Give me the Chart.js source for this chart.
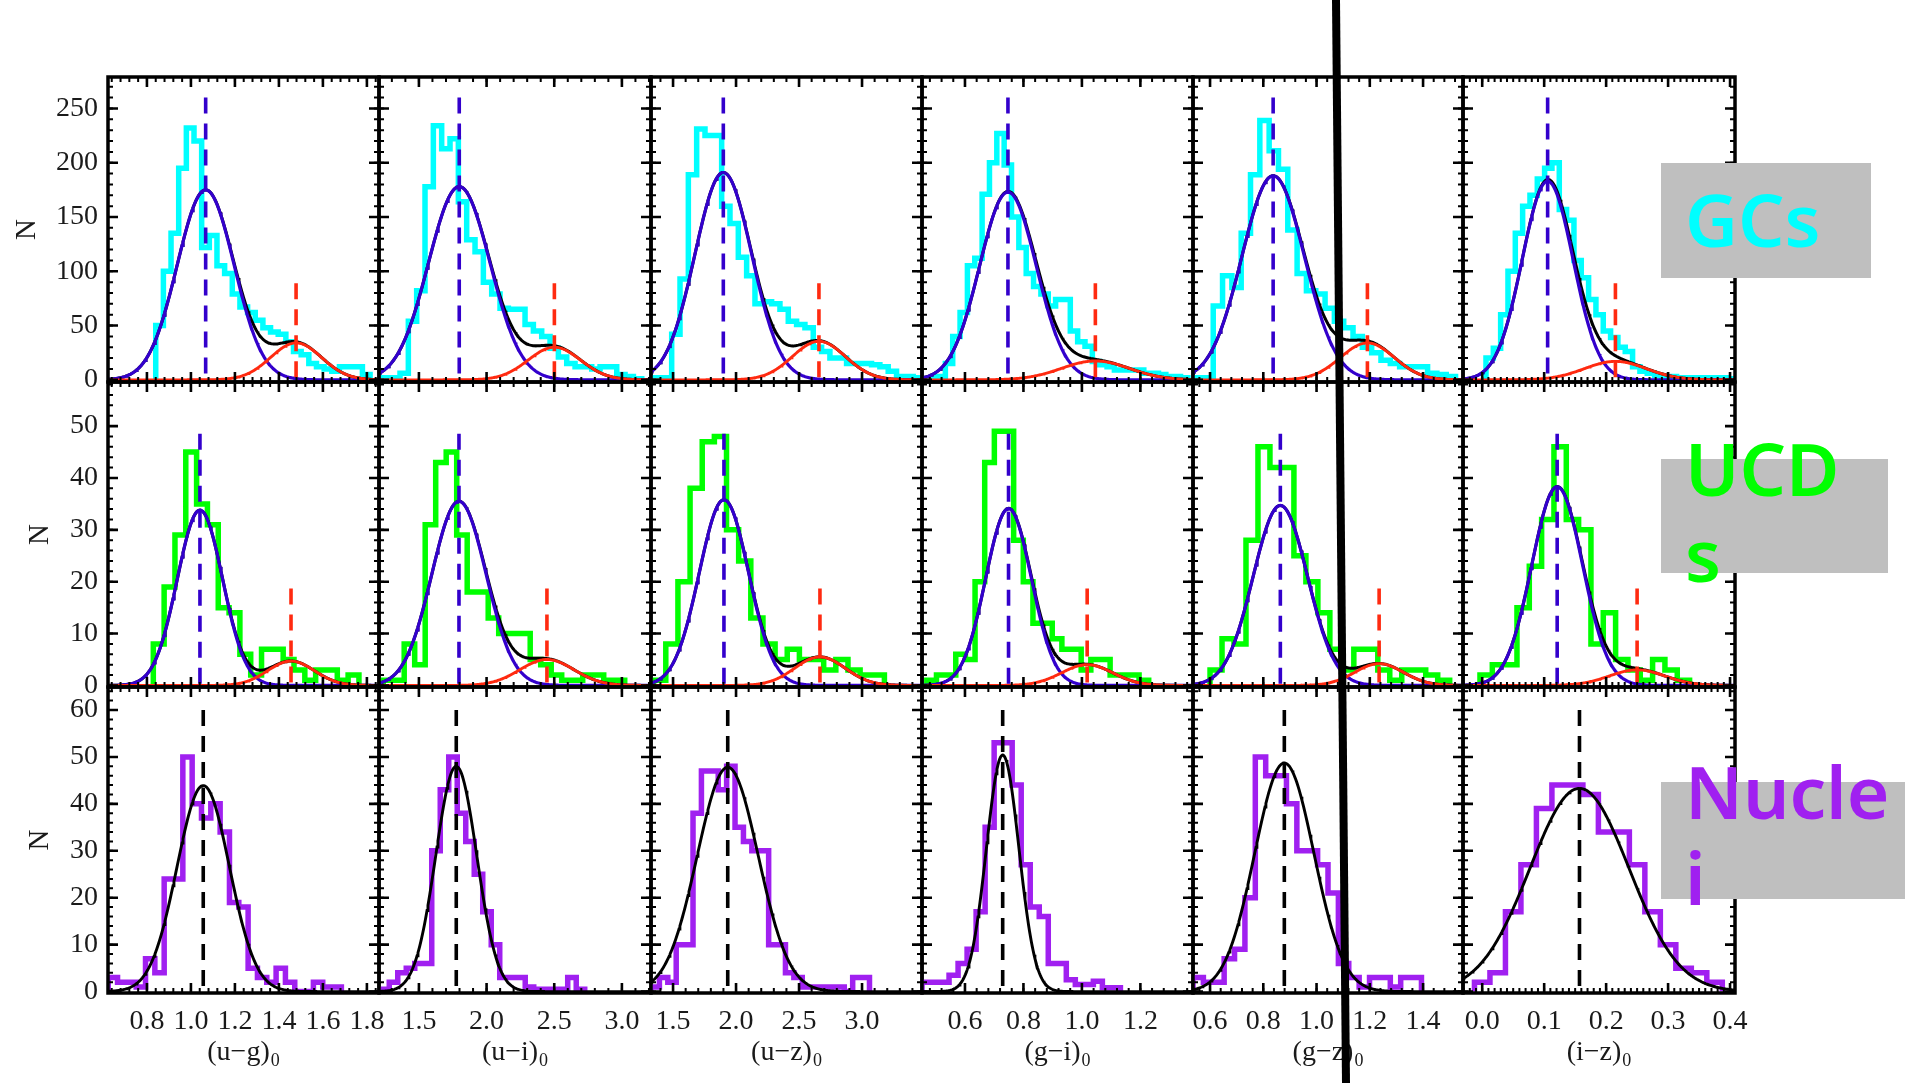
<!DOCTYPE html>
<html>
<head>
<meta charset="utf-8">
<script src="https://cdn.jsdelivr.net/npm/chart.js@4.4.1/dist/chart.umd.min.js"></script>
<style>
html, body { margin: 0; padding: 0; background: #fff; }
#page { position: relative; width: 1905px; height: 1083px; overflow: hidden; background: #fff; }
canvas.panel { position: absolute; }
.box { position: absolute; background: #bfbfbf; }
.tag { position: absolute; font-family: 'Noto Sans', sans-serif; font-weight: 600; font-size: 73px; line-height: 86px; white-space: nowrap; }
svg.cut { position: absolute; left: 0; top: 0; }
</style>
</head>
<body>
<div id="page"></div>
<script>
// axis ranges and tick labels, one entry per column / row
const colorNames = ['(u\u2212g)', '(u\u2212i)', '(u\u2212z)', '(g\u2212i)', '(g\u2212z)', '(i\u2212z)'];
const xMinByCol = [0.623, 1.205, 1.325, 0.453, 0.536, -0.031];
const xMaxByCol = [1.855, 3.215, 3.476, 1.38, 1.55, 0.408];
const xTicksByCol = [
    [0.8, 1.0, 1.2, 1.4, 1.6, 1.8],
    [1.5, 2.0, 2.5, 3.0],
    [1.5, 2.0, 2.5, 3.0],
    [0.6, 0.8, 1.0, 1.2],
    [0.6, 0.8, 1.0, 1.2, 1.4],
    [0.0, 0.1, 0.2, 0.3, 0.4]
];
const xMinorByCol = [0.04, 0.1, 0.1, 0.04, 0.04, 0.01];
const yMinByRow = [-2, -0.3, -0.3];
const yMaxByRow = [279, 58.5, 64.9];
const yTicksByRow = [
    [0, 50, 100, 150, 200, 250],
    [0, 10, 20, 30, 40, 50],
    [0, 10, 20, 30, 40, 50, 60]
];
const yMinorByRow = [10, 2, 2];

// GCs: histogram (first bin edge, bin width, counts) and two-gaussian fit
const gcHistStart = [0.84, 1.237, 1.357, 0.4575, 0.542, 0.0061];
const gcHistWidth = [0.0348, 0.0616, 0.0661, 0.02514, 0.035, 0.01183];
const gcHistCounts = [
    [50, 100, 135, 195, 232, 220, 122, 133, 105, 98, 79, 67, 62, 55, 48, 44, 42, 35, 26, 23, 15, 12, 10, 8, 12, 12, 12, 5],
    [2, 2, 6, 54, 82, 178, 234, 213, 222, 164, 129, 118, 90, 79, 66, 65, 65, 51, 45, 40, 29, 21, 15, 12, 12, 10, 12, 12, 5, 3, 1],
    [2, 2, 42, 93, 189, 231, 225, 225, 160, 144, 113, 96, 70, 72, 70, 65, 54, 51, 48, 30, 26, 20, 20, 15, 15, 15, 14, 12, 8, 3, 3, 2],
    [1, 2, 3, 15, 40, 62, 105, 112, 171, 200, 227, 198, 150, 122, 98, 86, 79, 68, 74, 74, 45, 35, 31, 17, 14, 12, 9, 9, 9, 9, 6, 6, 5, 3, 3, 2],
    [2, 2, 68, 96, 85, 135, 189, 239, 211, 194, 138, 98, 82, 79, 66, 54, 48, 40, 30, 25, 18, 15, 12, 12, 12, 6, 5, 3],
    [20, 29, 60, 100, 135, 160, 170, 185, 195, 200, 157, 147, 110, 94, 74, 60, 45, 39, 30, 26, 12, 8, 6, 4, 3, 3, 2, 2, 2, 2, 2, 2, 2, 1]
];
const gcBlueMean = [1.067, 1.798, 1.899, 0.747, 0.837, 0.1056];
const gcBlueSigma = [0.129, 0.227, 0.225, 0.097, 0.117, 0.041];
const gcBluePeak = [175, 178, 191, 173, 188, 183];
const gcRedMean = [1.478, 2.501, 2.658, 1.046, 1.191, 0.215];
const gcRedSigma = [0.116, 0.194, 0.21, 0.116, 0.101, 0.05];
const gcRedPeak = [34, 30, 35.5, 17.4, 34, 17];

// UCDs
const ucdHistStart = [0.829, 1.236, 1.346, 0.4695, 0.6, -0.0036];
const ucdHistWidth = [0.0492, 0.0776, 0.0964, 0.033, 0.045, 0.0199];
const ucdHistCounts = [
    [8, 19, 29, 45, 35, 31, 15, 14, 6, 2, 7, 7, 5, 3, 1, 3, 3, 1, 2],
    [1, 1, 8, 4, 31, 43, 45, 29, 18, 18, 13, 10, 10, 10, 5, 4, 2, 1, 1, 2, 2, 1, 1],
    [1, 8, 20, 38, 47, 48, 30, 24, 13, 8, 5, 7, 5, 5, 3, 5, 3, 2, 2],
    [1, 2, 2, 6, 5, 20, 43, 49, 49, 28, 20, 12, 12, 9, 7, 7, 3, 5, 5, 2, 2, 2, 1],
    [3, 9, 8, 28, 46, 42, 42, 25, 20, 14, 7, 3, 7, 7, 3, 1, 3, 3, 2, 1],
    [2, 4, 4, 15, 23, 32, 46, 32, 30, 8, 14, 5, 3, 1, 5, 3, 1]
];
const ucdBlueMean = [1.041, 1.796, 1.904, 0.749, 0.864, 0.121];
const ucdBlueSigma = [0.103, 0.2, 0.196, 0.078, 0.102, 0.041];
const ucdBluePeak = [33.8, 35.5, 35.8, 34.1, 34.7, 38.3];
const ucdRedMean = [1.455, 2.446, 2.666, 1.018, 1.235, 0.25];
const ucdRedSigma = [0.106, 0.2, 0.2, 0.088, 0.091, 0.045];
const ucdRedPeak = [4.7, 5, 5.5, 4.0, 4.2, 3.0];

// Nuclei: histogram and single gaussian
const nucHistStart = [0.624, 1.218, 1.325, 0.453, 0.536, -0.0125];
const nucHistWidth = [0.0424, 0.0628, 0.0667, 0.03085, 0.039, 0.025];
const nucHistCounts = [
    [3, 2, 2, 1, 7, 4, 24, 24, 50, 40, 37, 40, 34, 19, 18, 5, 3, 2, 5, 2, 0, 0, 2, 1, 1],
    [0.5, 2, 4, 5, 6, 6, 30, 43, 50, 38, 32, 25, 17, 10, 3, 3, 3, 1, 0.5, 0.5, 0.5, 0.5, 3, 0.5],
    [1, 3, 2, 10, 10, 38, 47, 47, 43, 48, 35, 32, 30, 30, 10, 10, 4, 3, 1, 1, 1, 1, 1, 0, 3, 3],
    [2, 2, 2, 3.5, 6, 9, 17, 35, 53, 53, 44, 27, 18, 16, 6, 6, 2.5, 1.5, 1.5, 2.2, 0.8, 0.8],
    [3, 2, 2, 7, 9, 20, 50, 46, 46, 40, 30, 30, 27, 21, 6, 3, 1, 3, 3, 1, 3, 3],
    [2, 4, 17, 27, 39, 44, 44, 42, 34, 34, 27, 17, 10, 5, 4, 2]
];
const nucMean = [1.056, 1.776, 1.934, 0.729, 0.879, 0.157];
const nucSigma = [0.119, 0.151, 0.242, 0.0556, 0.111, 0.08];
const nucPeak = [43.9, 48, 47.8, 50.4, 48.7, 43.3];

// heights of the dashed mean markers
const blueDashTop = [260, 48.5];
const redDashTop = [89, 18.7];
const nucDashTop = 60;

// layout
const colLeft = [108, 379, 651, 922, 1193, 1463, 1735];
const rowTop = [77, 382, 687, 993];
const yTitleGap = [81, 68, 68];
const histColors = ['#00ffff', '#00ff00', '#a020f0'];
const BLUE = '#3300cc';
const RED = '#ff2a10';
const SERIF = "'Liberation Serif', 'DejaVu Serif', serif";

Chart.defaults.font.family = SERIF;

const page = document.getElementById('page');

function histPoints(start, width, counts) {
    const pts = [{ x: start, y: 0 }];
    counts.forEach((n, i) => pts.push({ x: start + i * width, y: n }));
    const end = start + counts.length * width;
    pts.push({ x: end, y: counts[counts.length - 1] });
    pts.push({ x: end, y: 0 });
    return pts;
}

function gauss(x, mu, sig, peak) {
    return peak * Math.exp(-0.5 * ((x - mu) / sig) ** 2);
}

function curvePoints(c, fn) {
    const lo = xMinByCol[c], hi = xMaxByCol[c];
    const pts = [];
    for (let i = 0; i <= 300; i++) {
        const x = lo + (hi - lo) * i / 300;
        pts.push({ x: x, y: fn(x) });
    }
    return pts;
}

function line(data, color, width, dash) {
    return {
        data: data, showLine: true, borderColor: color, borderWidth: width,
        borderDash: dash || [], pointRadius: 0, fill: false, tension: 0
    };
}

const framePlugin = {
    id: 'frame',
    afterDatasetsDraw(chart) {
        const o = chart.options.plugins.frame;
        const ctx = chart.ctx, a = chart.chartArea;
        const xs = chart.scales.x, ys = chart.scales.y;
        ctx.save();
        ctx.strokeStyle = '#000';
        ctx.lineCap = 'butt';

        function marks(scale, step, majors, horiz) {
            const k0 = Math.ceil(scale.min / step - 1e-6);
            const k1 = Math.floor(scale.max / step + 1e-6);
            const one = (p, len) => {
                ctx.beginPath();
                if (horiz) {
                    ctx.moveTo(p, a.bottom); ctx.lineTo(p, a.bottom - len);
                    ctx.moveTo(p, a.top); ctx.lineTo(p, a.top + len);
                } else {
                    ctx.moveTo(a.left, p); ctx.lineTo(a.left + len, p);
                    ctx.moveTo(a.right, p); ctx.lineTo(a.right - len, p);
                }
                ctx.stroke();
            };
            ctx.lineWidth = 2;
            for (let k = k0; k <= k1; k++) one(scale.getPixelForValue(k * step), 5);
            ctx.lineWidth = 2.6;
            majors.forEach(v => one(scale.getPixelForValue(v), 10));
        }
        marks(xs, o.xMinor, o.xMajor, true);
        marks(ys, o.yMinor, o.yMajor, false);

        ctx.lineWidth = 3.5;
        ctx.strokeRect(a.left, a.top, a.right - a.left, a.bottom - a.top);
        ctx.restore();
    },
    afterDraw(chart) {
        const o = chart.options.plugins.frame;
        const ctx = chart.ctx, a = chart.chartArea;
        ctx.save();
        ctx.fillStyle = '#1a1a1a';
        if (o.yTitleGap) {
            ctx.translate(a.left - o.yTitleGap, (a.top + a.bottom) / 2);
            ctx.rotate(-Math.PI / 2);
            ctx.font = '29px ' + SERIF;
            ctx.textAlign = 'center';
            ctx.textBaseline = 'middle';
            ctx.fillText('N', 0, 0);
            ctx.setTransform(1, 0, 0, 1, 0, 0);
        }
        if (o.xTitle) {
            ctx.textBaseline = 'alphabetic';
            ctx.textAlign = 'left';
            ctx.font = '28px ' + SERIF;
            const w1 = ctx.measureText(o.xTitle).width;
            ctx.font = '18px ' + SERIF;
            const w2 = ctx.measureText('0').width;
            const x0 = (a.left + a.right) / 2 - (w1 + w2 + 1) / 2;
            const base = a.bottom + 67;
            ctx.font = '28px ' + SERIF;
            ctx.fillText(o.xTitle, x0, base);
            ctx.font = '18px ' + SERIF;
            ctx.fillText('0', x0 + w1 + 1, base + 6);
        }
        ctx.restore();
    }
};

function panelDatasets(r, c) {
    const sets = [];
    if (r < 2) {
        const bm = r === 0 ? gcBlueMean : ucdBlueMean;
        const bs = r === 0 ? gcBlueSigma : ucdBlueSigma;
        const bp = r === 0 ? gcBluePeak : ucdBluePeak;
        const rm = r === 0 ? gcRedMean : ucdRedMean;
        const rs = r === 0 ? gcRedSigma : ucdRedSigma;
        const rp = r === 0 ? gcRedPeak : ucdRedPeak;
        sets.push(line([{ x: bm[c], y: blueDashTop[r] }, { x: bm[c], y: 0 }], BLUE, 3.6, [16, 10]));
        sets.push(line([{ x: rm[c], y: redDashTop[r] }, { x: rm[c], y: 0 }], RED, 3.6, [16, 10]));
        sets.push(line(curvePoints(c, x => gauss(x, rm[c], rs[c], rp[c])), RED, 2.9));
        sets.push(line(curvePoints(c, x => gauss(x, bm[c], bs[c], bp[c])), BLUE, 3.2));
        sets.push(line(curvePoints(c, x => gauss(x, bm[c], bs[c], bp[c]) + gauss(x, rm[c], rs[c], rp[c])), '#000', 3));
    } else {
        sets.push(line([{ x: nucMean[c], y: nucDashTop }, { x: nucMean[c], y: 0 }], '#000', 3.6, [16, 10]));
        sets.push(line(curvePoints(c, x => gauss(x, nucMean[c], nucSigma[c], nucPeak[c])), '#000', 2.9));
    }
    const hs = [gcHistStart, ucdHistStart, nucHistStart][r][c];
    const hw = [gcHistWidth, ucdHistWidth, nucHistWidth][r][c];
    const hc = [gcHistCounts, ucdHistCounts, nucHistCounts][r][c];
    const h = line(histPoints(hs, hw, hc), histColors[r], 5.5);
    h.stepped = 'before';
    h.borderJoinStyle = 'miter';
    sets.push(h);
    return sets;
}

function makePanel(r, c) {
    const L = colLeft[c], R = colLeft[c + 1], T = rowTop[r], B = rowTop[r + 1];
    const M = 40;
    const cl = c === 0 ? 0 : L - M;
    const ct = T - M;
    const cr = R + M;
    const cb = r === 2 ? 1083 : B + M;
    const canvas = document.createElement('canvas');
    canvas.className = 'panel';
    canvas.width = cr - cl;
    canvas.height = cb - ct;
    canvas.style.left = cl + 'px';
    canvas.style.top = ct + 'px';
    page.appendChild(canvas);

    const tickFont = { family: SERIF, size: 28 };
    const xScale = {
        type: 'linear', min: xMinByCol[c], max: xMaxByCol[c],
        display: r === 2,
        grid: { display: false, drawTicks: false },
        border: { display: false },
        afterBuildTicks: s => { s.ticks = xTicksByCol[c].map(v => ({ value: v })); },
        ticks: {
            autoSkip: false, maxRotation: 0, padding: 12, color: '#1a1a1a', font: tickFont,
            callback: v => v.toFixed(1)
        }
    };
    if (r === 2) xScale.afterFit = s => { s.height = 1083 - B; };
    const yScale = {
        type: 'linear', min: yMinByRow[r], max: yMaxByRow[r],
        display: c === 0,
        grid: { display: false, drawTicks: false },
        border: { display: false },
        afterBuildTicks: s => { s.ticks = yTicksByRow[r].map(v => ({ value: v })); },
        ticks: {
            autoSkip: false, padding: 10, color: '#1a1a1a', font: tickFont,
            callback: v => String(v)
        }
    };
    if (c === 0) yScale.afterFit = s => { s.width = L; };

    new Chart(canvas, {
        type: 'scatter',
        data: { datasets: panelDatasets(r, c) },
        options: {
            responsive: false,
            animation: false,
            devicePixelRatio: 1,
            events: [],
            layout: { padding: { left: c === 0 ? 0 : M, right: M, top: M, bottom: r === 2 ? 0 : M } },
            plugins: {
                legend: { display: false },
                tooltip: { enabled: false },
                frame: {
                    xMinor: xMinorByCol[c], xMajor: xTicksByCol[c],
                    yMinor: yMinorByRow[r], yMajor: yTicksByRow[r],
                    yTitleGap: c === 0 ? yTitleGap[r] : 0,
                    xTitle: r === 2 ? colorNames[c] : null
                }
            },
            scales: { x: xScale, y: yScale }
        },
        plugins: [framePlugin]
    });
}

for (let r = 0; r < 3; r++) {
    for (let c = 0; c < 6; c++) makePanel(r, c);
}

// object-class labels on the right
const tagText = [['GCs', '#00ffff'], ['UCD<br>s', '#00ff00'], ['Nucle<br>i', '#a020f0']];
const boxRects = [[1661, 163, 210, 115], [1661, 459, 227, 114], [1661, 782, 244, 117]];
const tagTops = [176, 425, 748];
tagText.forEach((t, i) => {
    const b = document.createElement('div');
    b.className = 'box';
    b.style.left = boxRects[i][0] + 'px';
    b.style.top = boxRects[i][1] + 'px';
    b.style.width = boxRects[i][2] + 'px';
    b.style.height = boxRects[i][3] + 'px';
    page.appendChild(b);
    const d = document.createElement('div');
    d.className = 'tag';
    d.style.left = '1685px';
    d.style.top = tagTops[i] + 'px';
    d.style.color = t[1];
    d.innerHTML = t[0];
    page.appendChild(d);
});

// thick black stroke laid across the figure
const svgNS = 'http://www.w3.org/2000/svg';
const svg = document.createElementNS(svgNS, 'svg');
svg.setAttribute('class', 'cut');
svg.setAttribute('width', '1905');
svg.setAttribute('height', '1083');
const ln = document.createElementNS(svgNS, 'line');
ln.setAttribute('x1', '1336'); ln.setAttribute('y1', '0');
ln.setAttribute('x2', '1346'); ln.setAttribute('y2', '1083');
ln.setAttribute('stroke', '#000'); ln.setAttribute('stroke-width', '8');
svg.appendChild(ln);
page.appendChild(svg);
</script>
</body>
</html>
